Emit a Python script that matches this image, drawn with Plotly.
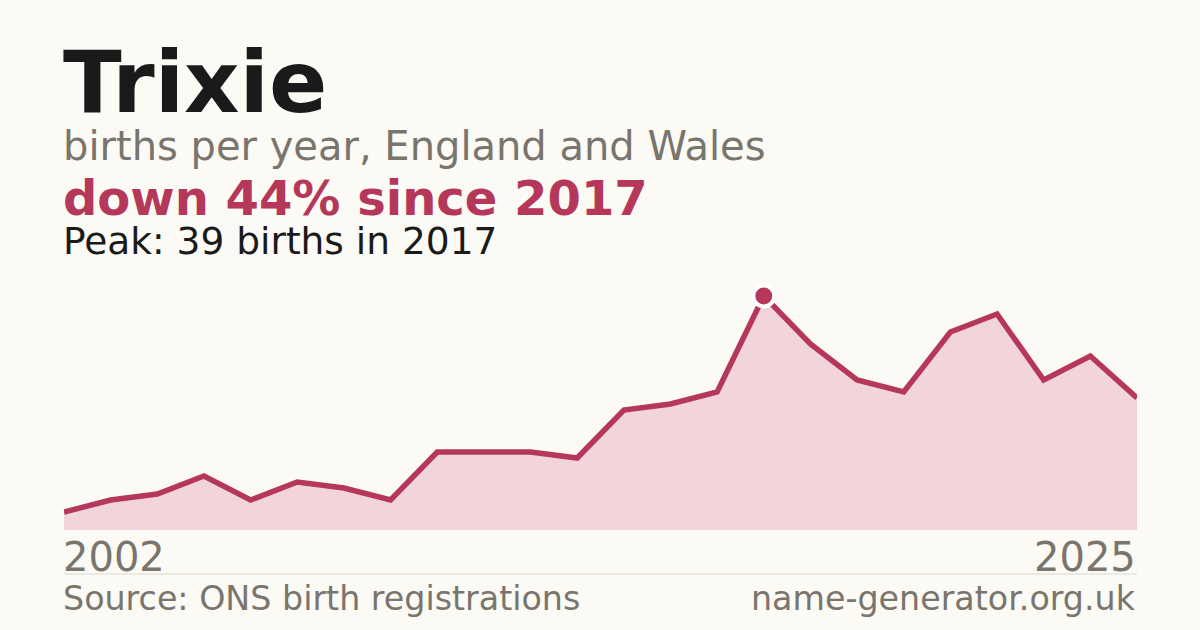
import plotly.graph_objects as go

years = list(range(2002, 2026))
births = [3, 5, 6, 9, 5, 8, 7, 5, 13, 13, 13, 12, 20, 21, 23, 39, 31, 25, 23, 33, 36, 25, 29, 22]

name = "Trixie"
subtitle = "births per year, England and Wales"
change_text = "down 44% since 2017"
peak_text = "Peak: 39 births in 2017"
source_text = "Source: ONS birth registrations"
site_text = "name-generator.org.uk"

BG = "#fbfaf5"
RED = "#b5385a"
FILL = "#f2d5db"
GRAY = "#7a756c"
DARK = "#1a1a1a"
FONT = "DejaVu Sans"

peak_i = births.index(max(births))

fig = go.Figure()
fig.add_trace(go.Scatter(
    x=years, y=births, mode="lines",
    line=dict(color=RED, width=5.5),
    fill="tozeroy", fillcolor=FILL,
    hoverinfo="skip", showlegend=False,
))
fig.add_trace(go.Scatter(
    x=[years[peak_i]], y=[births[peak_i]], mode="markers",
    marker=dict(color=RED, size=21, line=dict(color="white", width=4)),
    cliponaxis=False, hoverinfo="skip", showlegend=False,
))

W, H = 1200, 630
T, B = 290, 530
def py(p):
    return (B - p) / (B - T)

def ann(text, y_px, size, color, bold=False, x=0, xanchor="left"):
    fig.add_annotation(
        text=f"<b>{text}</b>" if bold else text,
        xref="paper", yref="paper", x=x, y=py(y_px),
        xanchor=xanchor, yanchor="middle", showarrow=False,
        xshift=-3 if xanchor == "left" else 1,
        font=dict(family=FONT, size=size, color=color),
    )

ann(name, 112 - 0.346 * 86, 86, DARK, bold=True)
ann(subtitle, 160 - 0.346 * 40, 40, GRAY)
ann(change_text, 215 - 0.346 * 48, 48, RED, bold=True)
ann(peak_text, 254 - 0.346 * 37.5, 37.5, DARK)
ann(str(years[0]), 571 - 0.346 * 40, 40, GRAY)
ann(str(years[-1]), 571 - 0.346 * 40, 40, GRAY, x=1, xanchor="right")
ann(source_text, 610 - 0.346 * 33.3, 33.3, GRAY)
ann(site_text, 610 - 0.346 * 33.3, 33.3, GRAY, x=1, xanchor="right")

fig.add_shape(type="line", xref="paper", yref="paper", x0=0, x1=1,
              y0=py(574), y1=py(574), line=dict(color="#dcd8d0", width=1))

fig.update_layout(
    width=W, height=H,
    margin=dict(l=64, r=63, t=T, b=H - B, pad=0),
    paper_bgcolor=BG, plot_bgcolor=BG,
    xaxis=dict(range=[years[0], years[-1]], visible=False, fixedrange=True),
    yaxis=dict(range=[0, 40], visible=False, fixedrange=True),
    font=dict(family=FONT),
)

fig.write_html(
    "out.html",
    config={"displayModeBar": False},
    post_script="document.body.style.margin='0';document.body.style.background='%s';" % BG,
)
